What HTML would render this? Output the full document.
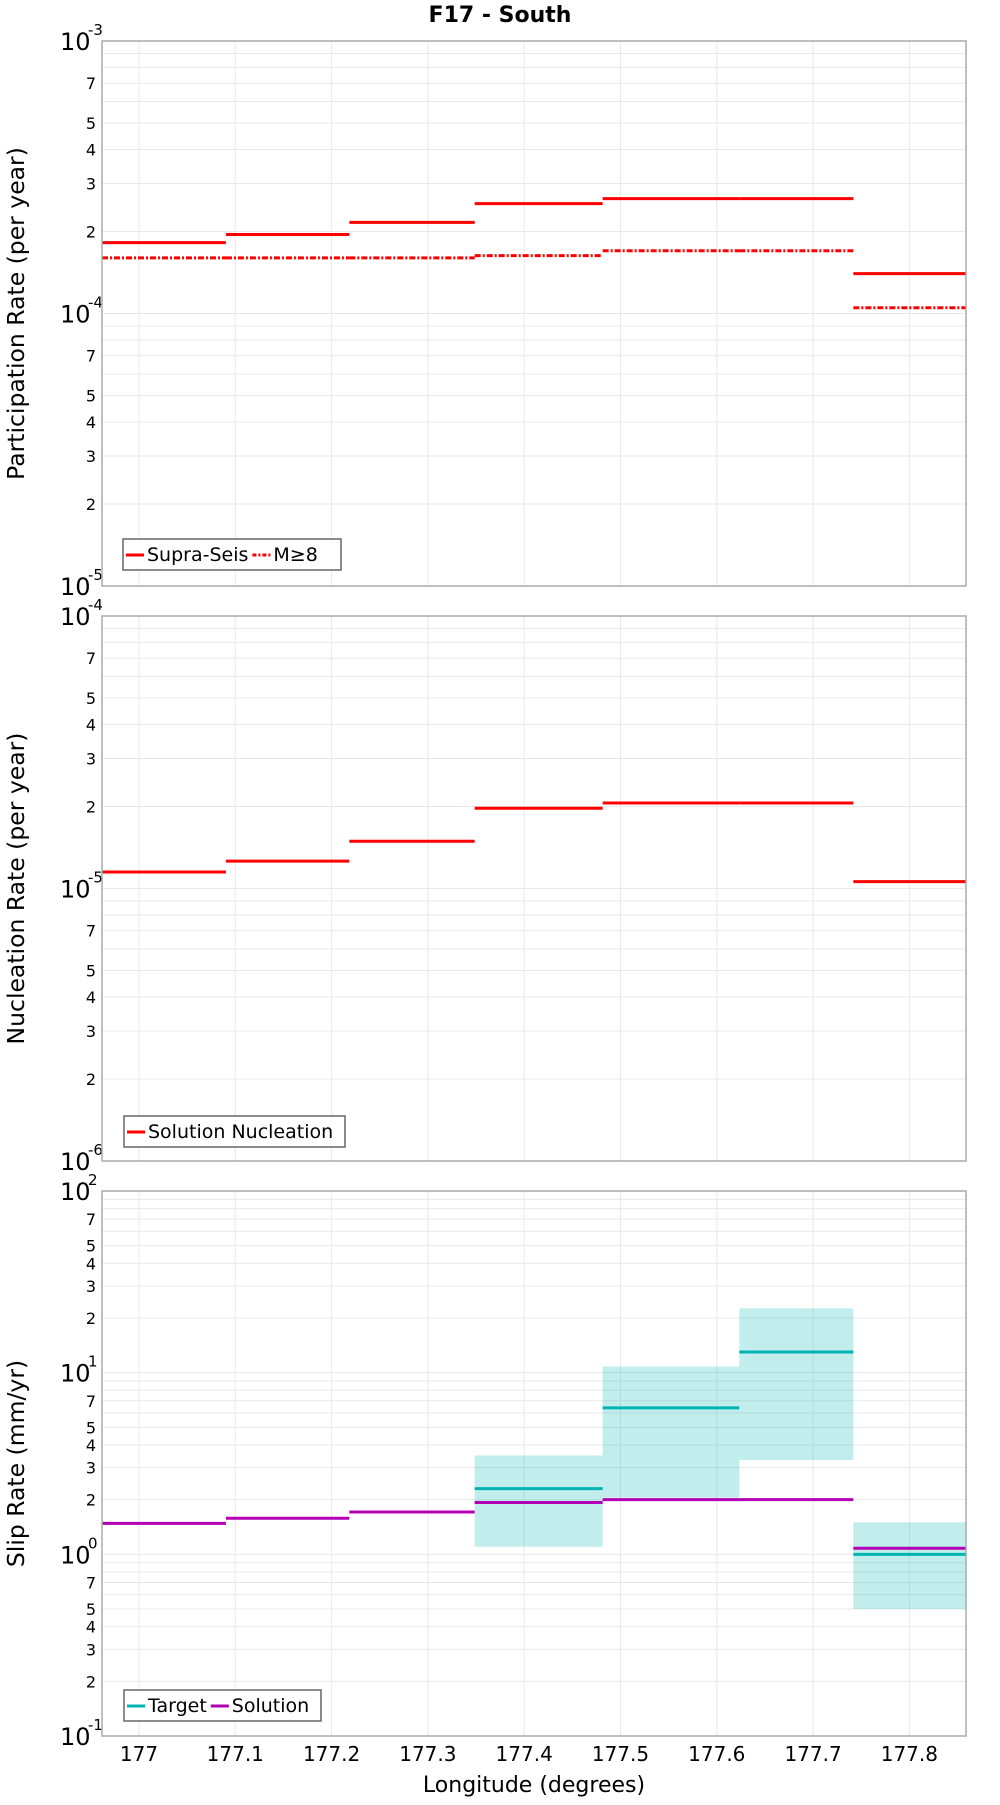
<!DOCTYPE html>
<html><head><meta charset="utf-8"><style>
body{margin:0;background:#fff}
svg{font-family:"DejaVu Sans","Liberation Sans",sans-serif}
</style></head><body>
<svg id="c" width="1000" height="1800" viewBox="0 0 1000 1800" xmlns="http://www.w3.org/2000/svg">
<text x="500" y="22" text-anchor="middle" font-size="22" font-weight="bold">F17 - South</text>
<g id="g"></g>
</svg>
<script>
const binEdges=[176.9616,177.0903,177.2184,177.3486,177.4815,177.6234,177.7418,177.8588];
const supraSeis=[1.82e-4,1.95e-4,2.16e-4,2.53e-4,2.64e-4,2.64e-4,1.40e-4];
const m8=[1.60e-4,1.60e-4,1.60e-4,1.63e-4,1.70e-4,1.70e-4,1.05e-4];
const nucleation=[1.15e-5,1.26e-5,1.49e-5,1.97e-5,2.06e-5,2.06e-5,1.06e-5];
const solutionSlip=[1.48,1.58,1.71,1.93,2.0,2.0,1.08];
const targetSlip=[null,null,null,2.3,6.4,13.0,1.0];
const targetHigh=[null,null,null,3.5,10.8,22.6,1.5];
const targetLow=[null,null,null,1.1,2.05,3.3,0.5];
const xTicks=[177,177.1,177.2,177.3,177.4,177.5,177.6,177.7,177.8];
const xTickLabels=["177","177.1","177.2","177.3","177.4","177.5","177.6","177.7","177.8"];
const NS="http://www.w3.org/2000/svg";
const g=document.getElementById('g');
const L=102,R=966;
const xmin=176.9616,xmax=177.8588;
function X(v){return L+(v-xmin)/(xmax-xmin)*(R-L);}
function mk(t,a,p){const e=document.createElementNS(NS,t);for(const k in a)e.setAttribute(k,a[k]);(p||g).appendChild(e);return e;}
function panel(top,bot,dmin,dmax,title,name){
  const Y=v=>bot-(Math.log10(v)-dmin)/(dmax-dmin)*(bot-top);
  const pg=mk('g',{});
  
  
  mk('rect',{x:L,y:top,width:R-L,height:bot-top,fill:'#fff'},pg);
  for(const t of xTicks){const l=mk('line',{x1:X(t),x2:X(t),y1:top,y2:bot,stroke:'#e8e8e8','stroke-width':1},pg);}
  for(let d=dmin;d<dmax;d++){
    for(let m=1;m<10;m++){
      const v=m*Math.pow(10,d);const y=Y(v);
      const l=mk('line',{x1:L,x2:R,y1:y,y2:y,stroke:'#e8e8e8','stroke-width':1},pg);
      
      if([2,3,4,5,7].includes(m)){
        const t=mk('text',{x:96,y:y+6,'text-anchor':'end','font-size':16},pg);t.textContent=m;
        
      }
    }
  }
  for(let d=dmin;d<=dmax;d++){
    const y=Y(Math.pow(10,d));
    const t=mk('text',{x:60,y:y+9,'font-size':24},pg);t.textContent='10';
    
    const s=mk('text',{x:88,y:y-6,'font-size':15},pg);s.textContent=String(d);
    
  }
  const at=mk('text',{x:0,y:0,'font-size':23.5,'text-anchor':'middle',transform:`translate(24,${(top+bot)/2}) rotate(-90)`},pg);
  at.textContent=title;
  return {Y,pg,top,bot};
}
function steps(p,vals,color,dash,name){
  vals.forEach((v,i)=>{if(v==null)return;
    const a={x1:X(binEdges[i]),x2:X(binEdges[i+1]),y1:p.Y(v),y2:p.Y(v),stroke:color,'stroke-width':3};
    if(dash)a['stroke-dasharray']=dash;
    const l=mk('line',a,p.pg);});
}
function frame(p){const r=mk('rect',{x:L,y:p.top,width:R-L,height:p.bot-p.top,fill:'none',stroke:'#aaa','stroke-width':1.5},p.pg);}
function legend(p,x,y,w,items){
  const lg=mk('g',{},p.pg);
  mk('rect',{x:x,y:y,width:w,height:31,fill:'#fff',stroke:'#666','stroke-width':1.5},lg);
  let cx=x+3;
  for(const it of items){
    const a={x1:cx,x2:cx+18,y1:y+16,y2:y+16,stroke:it.c,'stroke-width':3};if(it.d)a['stroke-dasharray']=it.d;
    const l=mk('line',a,lg);
    const t=mk('text',{x:cx+21,y:y+22,'font-size':19},lg);t.textContent=it.t;
    
    cx+=21+t.getComputedTextLength()+4;
  }
}
const p1=panel(41,586,-5,-3,'Participation Rate (per year)','participation');
steps(p1,supraSeis,'#f00',null,'supra-seis-step');
steps(p1,m8,'#f00','6,2,2,2','m8-step');
frame(p1);
legend(p1,123,539,218,[{c:'#f00',t:'Supra-Seis'},{c:'#f00',t:'M≥8',d:'4,2,2,2'}]);
const p2=panel(616,1161,-6,-4,'Nucleation Rate (per year)','nucleation');
steps(p2,nucleation,'#f00',null,'nucleation-step');
frame(p2);
legend(p2,124,1116,221,[{c:'#f00',t:'Solution Nucleation'}]);
const p3=panel(1191,1736,-1,2,'Slip Rate (mm/yr)','slip-rate');
targetLow.forEach((lo,i)=>{if(lo==null)return;
  const r=mk('rect',{x:X(binEdges[i]),y:p3.Y(targetHigh[i]),width:X(binEdges[i+1])-X(binEdges[i]),height:p3.Y(lo)-p3.Y(targetHigh[i]),fill:'rgba(0,180,180,0.24)'},p3.pg);
  });
steps(p3,solutionSlip,'#b400b4',null,'solution-step');
steps(p3,targetSlip,'#00b4b4',null,'target-step');
frame(p3);
legend(p3,124,1690,197,[{c:'#00b4b4',t:'Target'},{c:'#b400b4',t:'Solution'}]);
xTicks.forEach((t,i)=>{const e=mk('text',{x:X(t),y:1761,'text-anchor':'middle','font-size':20});e.textContent=xTickLabels[i];
  });
const xt=mk('text',{x:(L+R)/2,y:1792,'text-anchor':'middle','font-size':22});xt.textContent='Longitude (degrees)';

</script>
</body></html>
